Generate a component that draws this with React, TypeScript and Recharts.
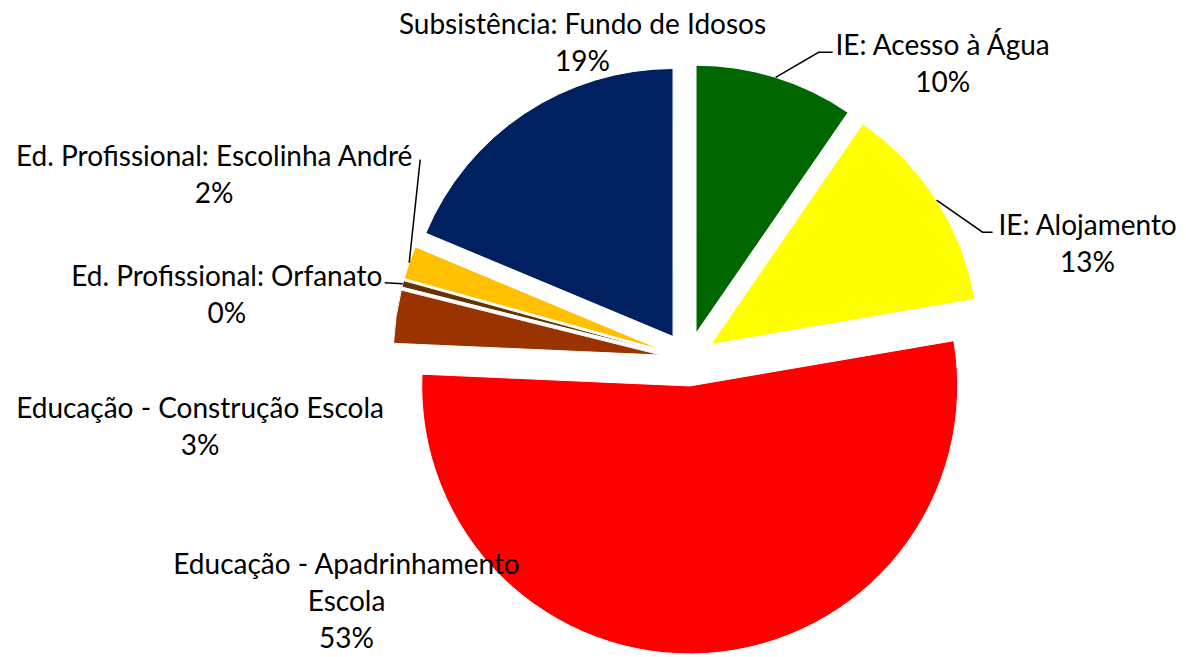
import React from "react"
import { Pie, PieChart, Sector } from "recharts"

// slices clockwise from 12 o'clock
const categories = [
  "IE: Acesso à Água",
  "IE: Alojamento",
  "Educação - Apadrinhamento\nEscola",
  "Educação - Construção Escola",
  "Ed. Profissional: Orfanato",
  "Ed. Profissional: Escolinha André",
  "Subsistência: Fundo de Idosos",
]
const shares = [9.6, 12.7, 53.4, 3.2, 0.4, 2.0, 18.7]
const colors = ["#006600", "#FFFF00", "#FF0000", "#993300", "#663300", "#FFC000", "#002060"]

const data = categories.map((name, i) => ({ name, value: shares[i], fill: colors[i] }))

const EXPLODE = 27
const RAD = Math.PI / 180
const FONT = "Lato, 'Open Sans', sans-serif"
const LINE_H = 37

// label centre (first line) relative to the slice's outer mid point
const labelOffsets: [number, number][] = [
  [167, -33],
  [151, 24],
  [-360, -90],
  [-196, 90],
  [-176, -9],
  [-195, -108],
  [58, -90],
]
// leader line points relative to the outer mid point (empty = none)
const leaders: [number, number][][] = [
  [[0, 0], [43, -25], [57, -25]],
  [[0, 0], [46, 32], [56, 32]],
  [],
  [],
  [[0, 0], [-18, -1]],
  [[0, 0], [11, -103]],
  [],
]

const ExplodedSector = (props: any) => {
  const a = -props.midAngle * RAD
  const dx = EXPLODE * Math.cos(a)
  const dy = EXPLODE * Math.sin(a)
  return (
    <Sector
      cx={props.cx + dx}
      cy={props.cy + dy}
      innerRadius={props.innerRadius}
      outerRadius={props.outerRadius}
      startAngle={props.startAngle}
      endAngle={props.endAngle}
      fill={props.fill}
      stroke="#FFFFFF"
      strokeWidth={1}
    />
  )
}

const renderLabel = (props: any) => {
  const { cx, cy, midAngle, outerRadius, percent, index } = props
  const a = -midAngle * RAD
  const ox = cx + (outerRadius + EXPLODE) * Math.cos(a)
  const oy = cy + (outerRadius + EXPLODE) * Math.sin(a)
  const [lx, ly] = labelOffsets[index]
  const lines = [...categories[index].split("\n"), `${Math.round(percent * 100)}%`]
  const pts = leaders[index]
  return (
    <g key={`lbl-${index}`}>
      {pts.length > 1 && (
        <polyline
          points={pts.map(([px, py]) => `${ox + px},${oy + py}`).join(" ")}
          fill="none"
          stroke="#000000"
          strokeWidth={1.5}
        />
      )}
      {lines.map((t, j) => (
        <text
          key={j}
          x={ox + lx}
          y={oy + ly + j * LINE_H}
          textAnchor="middle"
          dominantBaseline="central"
          fontFamily={FONT}
          fontSize={28}
          fill="#000000"
        >
          {t}
        </text>
      ))}
    </g>
  )
}

export default function App() {
  return (
    <div style={{ position: "absolute", left: 0, top: 0, background: "#FFFFFF" }}>
      <PieChart width={1186} height={657} margin={{ top: 0, right: 0, bottom: 0, left: 0 }}>
        <Pie
          data={data}
          dataKey="value"
          nameKey="name"
          cx={688}
          cy={359}
          outerRadius={268}
          startAngle={90}
          endAngle={-270}
          stroke="#FFFFFF"
          strokeWidth={1}
          shape={ExplodedSector}
          activeShape={ExplodedSector}
          label={renderLabel}
          labelLine={false}
          isAnimationActive={false}
        />
      </PieChart>
    </div>
  )
}
